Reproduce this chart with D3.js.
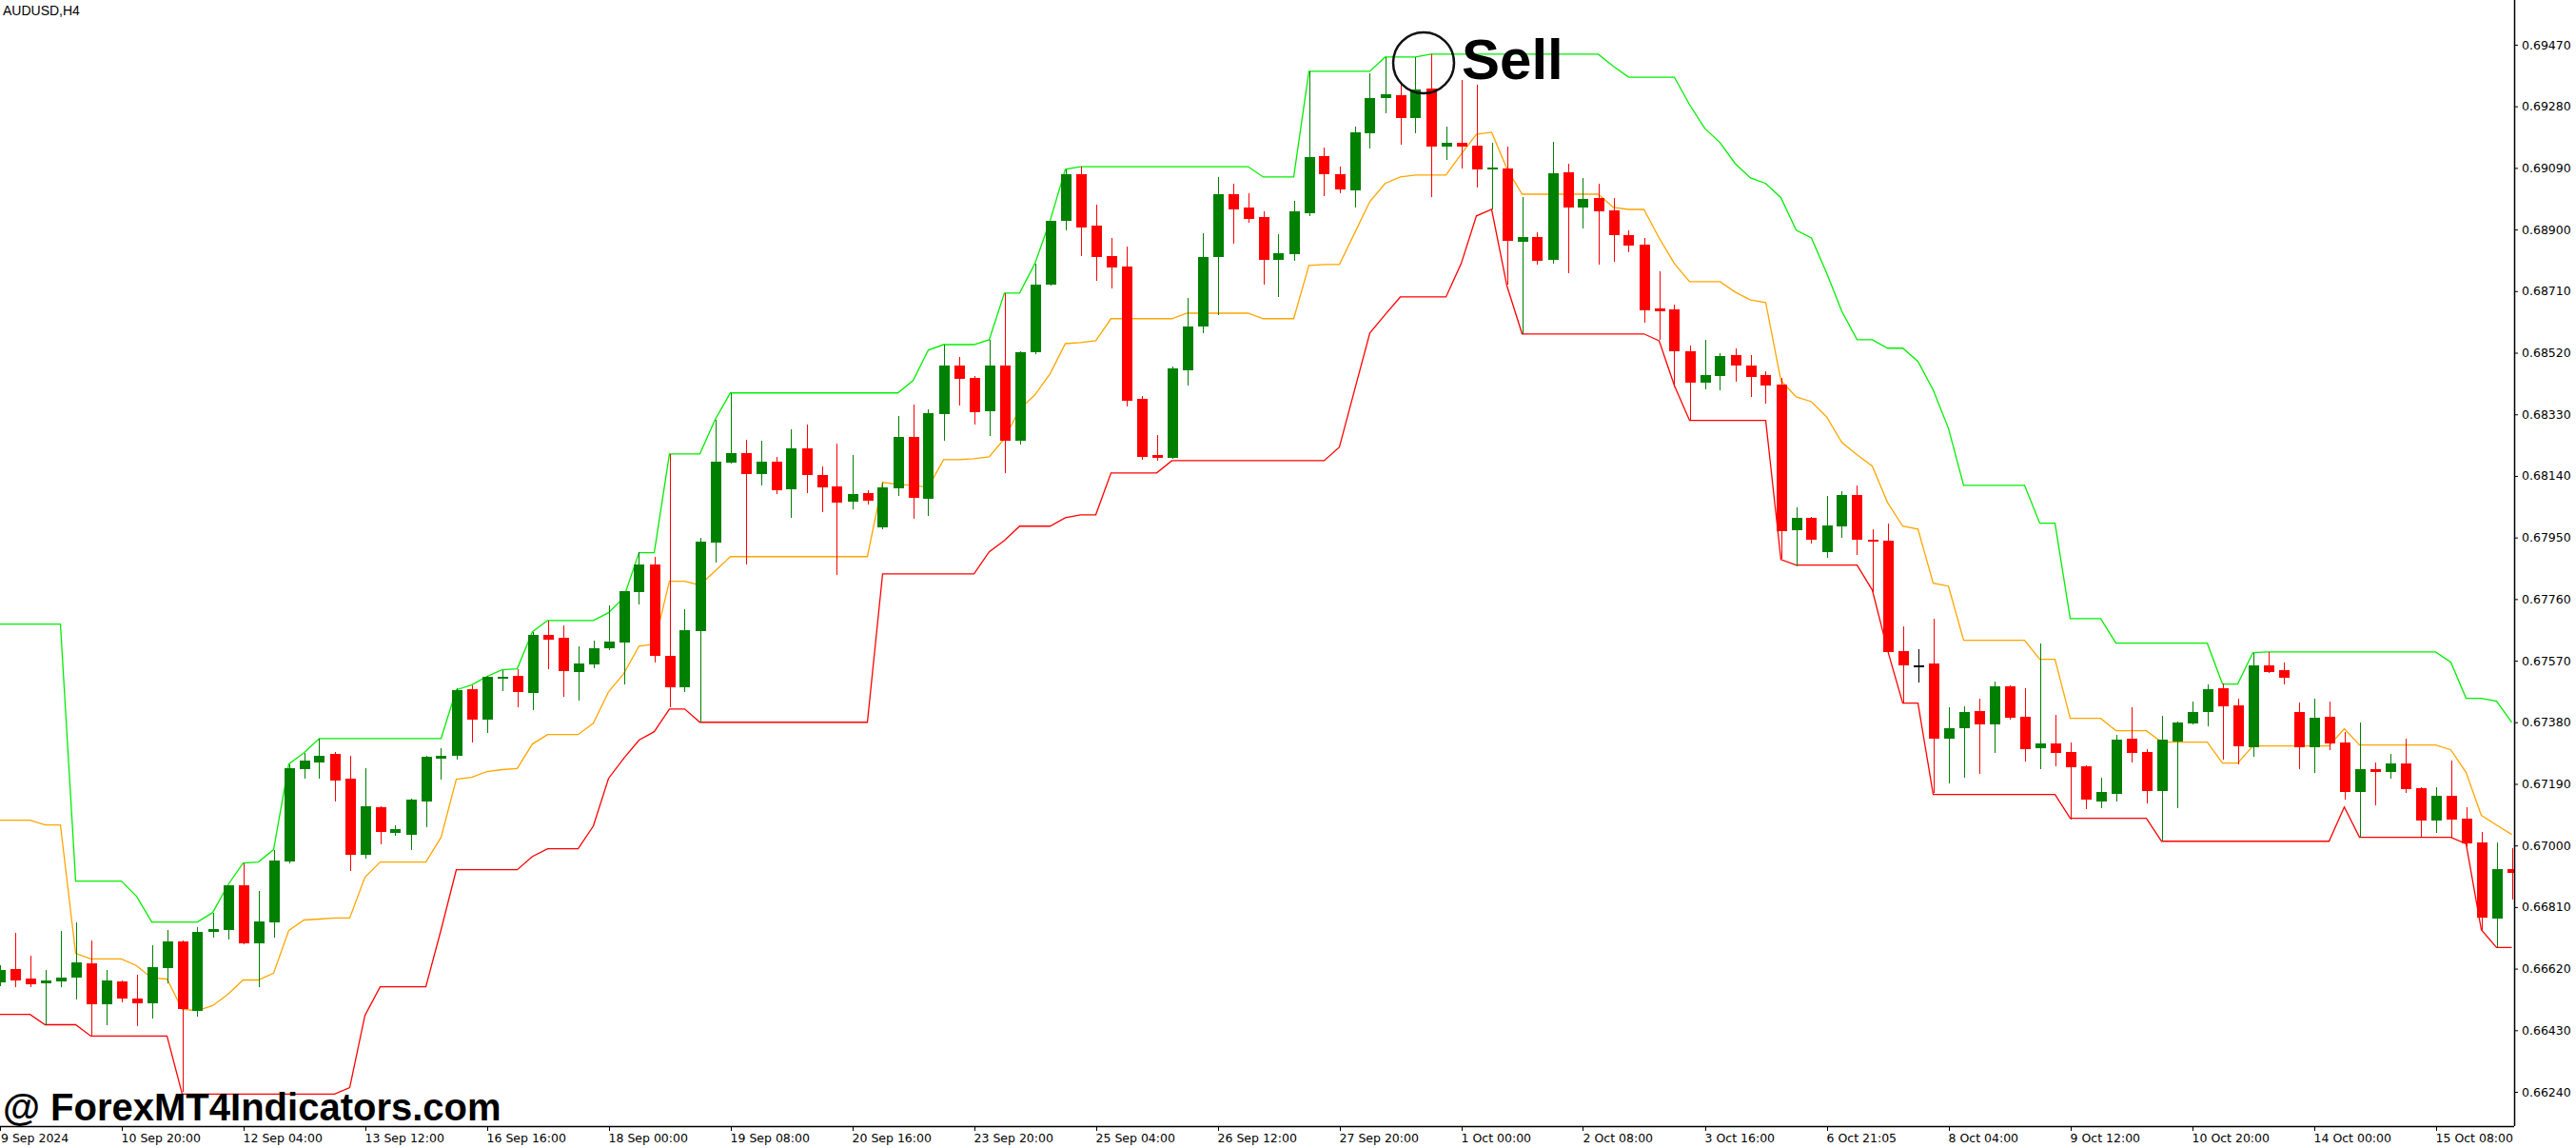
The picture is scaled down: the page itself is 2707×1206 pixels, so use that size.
<!DOCTYPE html>
<html><head><meta charset="utf-8">
<script src="https://cdn.jsdelivr.net/npm/d3@7"></script>
<style>html,body{margin:0;padding:0;background:#fff;overflow:hidden}</style>
</head><body>
<svg id="c" width="2707" height="1206"></svg>
<script>
const open=[0.66579,0.66620,0.66588,0.66576,0.66582,0.66591,0.66635,0.66509,0.66582,0.66529,
0.66512,0.66623,0.66705,0.66491,0.66732,0.66740,0.66878,0.66697,0.66764,0.66952,
0.67234,0.67257,0.67281,0.67207,0.66972,0.67119,0.67040,0.67034,0.67137,0.67269,
0.67278,0.67483,0.67389,0.67518,0.67524,0.67471,0.67650,0.67642,0.67536,0.67559,
0.67609,0.67627,0.67782,0.67868,0.67586,0.67489,0.67662,0.67935,0.68182,0.68211,
0.68146,0.68184,0.68099,0.68226,0.68143,0.68108,0.68061,0.68088,0.67982,0.68102,
0.68261,0.68070,0.68331,0.68481,0.68443,0.68340,0.68481,0.68249,0.68522,0.68730,
0.68927,0.69071,0.68912,0.68818,0.68786,0.68378,0.68205,0.68196,0.68466,0.68601,
0.68816,0.69009,0.68968,0.68939,0.68807,0.68824,0.68951,0.69127,0.69071,0.69021,
0.69197,0.69306,0.69314,0.69244,0.69335,0.69156,0.69168,0.69159,0.69086,0.69088,
0.68862,0.68877,0.68807,0.69077,0.68968,0.68998,0.68959,0.68883,0.68854,0.68657,
0.68654,0.68525,0.68428,0.68449,0.68513,0.68481,0.68452,0.68422,0.67973,0.68011,
0.67906,0.67985,0.68082,0.67944,0.67941,0.67600,0.67556,0.67562,0.67330,0.67363,
0.67416,0.67374,0.67492,0.67398,0.67301,0.67316,0.67289,0.67245,0.67137,0.67160,
0.67330,0.67289,0.67169,0.67322,0.67377,0.67413,0.67486,0.67433,0.67304,0.67556,
0.67542,0.67413,0.67304,0.67398,0.67319,0.67166,0.67234,0.67228,0.67254,0.67178,
0.67078,0.67154,0.67084,0.67008,0.66773,0.66928];
const high=[0.66632,0.66729,0.66661,0.66617,0.66735,0.66764,0.66708,0.66617,0.66585,0.66600,
0.66691,0.66738,0.66708,0.66749,0.66793,0.66878,0.66946,0.66861,0.66987,0.67251,
0.67286,0.67330,0.67289,0.67278,0.67237,0.67122,0.67063,0.67143,0.67278,0.67301,
0.67486,0.67495,0.67524,0.67542,0.67545,0.67659,0.67694,0.67680,0.67615,0.67633,
0.67741,0.67785,0.67906,0.67891,0.68208,0.67730,0.67950,0.68314,0.68396,0.68252,
0.68249,0.68199,0.68284,0.68299,0.68170,0.68240,0.68205,0.68096,0.68120,0.68325,
0.68361,0.68346,0.68545,0.68507,0.68449,0.68560,0.68704,0.68525,0.68795,0.68927,
0.69086,0.69094,0.68977,0.68874,0.68848,0.68387,0.68267,0.68478,0.68689,0.68889,
0.69062,0.69042,0.69012,0.68956,0.68886,0.68989,0.69388,0.69153,0.69094,0.69218,
0.69382,0.69432,0.69353,0.69432,0.69441,0.69218,0.69361,0.69347,0.69168,0.69156,
0.69000,0.68892,0.69171,0.69103,0.69059,0.69042,0.68998,0.68898,0.68874,0.68772,
0.68669,0.68543,0.68560,0.68519,0.68534,0.68513,0.68463,0.68443,0.68044,0.68014,
0.68079,0.68094,0.68111,0.67976,0.67994,0.67677,0.67606,0.67700,0.67427,0.67430,
0.67454,0.67507,0.67495,0.67486,0.67624,0.67404,0.67319,0.67248,0.67210,0.67342,
0.67427,0.67298,0.67401,0.67383,0.67445,0.67498,0.67501,0.67454,0.67595,0.67597,
0.67565,0.67442,0.67454,0.67445,0.67351,0.67380,0.67257,0.67281,0.67330,0.67181,
0.67181,0.67263,0.67119,0.67043,0.67010,0.66993];
const low=[0.66567,0.66564,0.66564,0.66447,0.66564,0.66526,0.66412,0.66447,0.66515,0.66444,
0.66465,0.66576,0.66239,0.66471,0.66717,0.66711,0.66694,0.66564,0.66717,0.66946,
0.67207,0.67207,0.67137,0.66922,0.66958,0.67002,0.67031,0.66987,0.67057,0.67204,
0.67266,0.67319,0.67348,0.67477,0.67427,0.67418,0.67545,0.67460,0.67448,0.67548,
0.67603,0.67498,0.67744,0.67565,0.67427,0.67474,0.67380,0.67873,0.68179,0.67868,
0.68111,0.68085,0.68011,0.68088,0.68029,0.67835,0.68038,0.68052,0.67976,0.68079,
0.68008,0.68017,0.68249,0.68358,0.68299,0.68264,0.68149,0.68237,0.68516,0.68727,
0.68898,0.68818,0.68742,0.68719,0.68355,0.68190,0.68187,0.68193,0.68419,0.68581,
0.68637,0.68857,0.68921,0.68730,0.68692,0.68804,0.68942,0.69003,0.69012,0.68968,
0.69150,0.69259,0.69162,0.69197,0.69000,0.69115,0.69088,0.69030,0.68962,0.68730,
0.68578,0.68792,0.68795,0.68766,0.68904,0.68792,0.68801,0.68830,0.68613,0.68560,
0.68413,0.68311,0.68408,0.68405,0.68431,0.68384,0.68364,0.67885,0.67862,0.67932,
0.67888,0.67950,0.67897,0.67782,0.67592,0.67442,0.67504,0.67163,0.67192,0.67210,
0.67222,0.67286,0.67389,0.67260,0.67234,0.67245,0.67081,0.67113,0.67116,0.67137,
0.67257,0.67131,0.67013,0.67116,0.67374,0.67369,0.67266,0.67251,0.67275,0.67533,
0.67498,0.67234,0.67225,0.67295,0.67140,0.67025,0.67125,0.67207,0.67163,0.67025,
0.67040,0.67025,0.66996,0.66740,0.66685,0.66834];
const close=[0.66617,0.66585,0.66573,0.66585,0.66591,0.66638,0.66509,0.66585,0.66529,0.66512,
0.66626,0.66705,0.66494,0.66732,0.66743,0.66878,0.66697,0.66767,0.66955,0.67237,
0.67263,0.67278,0.67201,0.66972,0.67122,0.67043,0.67049,0.67140,0.67275,0.67278,
0.67480,0.67389,0.67521,0.67521,0.67474,0.67650,0.67636,0.67539,0.67562,0.67609,
0.67630,0.67785,0.67868,0.67586,0.67489,0.67665,0.67938,0.68184,0.68211,0.68146,
0.68184,0.68096,0.68226,0.68143,0.68105,0.68058,0.68085,0.68064,0.68105,0.68261,
0.68073,0.68334,0.68481,0.68440,0.68337,0.68481,0.68249,0.68522,0.68730,0.68927,
0.69071,0.68907,0.68816,0.68783,0.68372,0.68199,0.68196,0.68472,0.68601,0.68816,
0.69009,0.68962,0.68933,0.68807,0.68827,0.68956,0.69124,0.69071,0.69024,0.69200,
0.69306,0.69317,0.69244,0.69332,0.69156,0.69168,0.69156,0.69086,0.69091,0.68865,
0.68877,0.68804,0.69074,0.68968,0.68995,0.68956,0.68883,0.68851,0.68651,0.68648,
0.68525,0.68428,0.68452,0.68510,0.68481,0.68446,0.68419,0.67970,0.68011,0.67944,
0.67988,0.68082,0.67944,0.67938,0.67597,0.67556,0.67556,0.67330,0.67363,0.67413,
0.67374,0.67492,0.67395,0.67298,0.67316,0.67286,0.67242,0.67140,0.67166,0.67327,
0.67286,0.67169,0.67325,0.67380,0.67413,0.67483,0.67430,0.67307,0.67556,0.67536,
0.67518,0.67304,0.67395,0.67316,0.67166,0.67234,0.67228,0.67254,0.67175,0.67078,
0.67154,0.67081,0.67005,0.66776,0.66928,0.66914];
const upper=[0.67683,0.67683,0.67683,0.67683,0.67683,0.66890,0.66890,0.66890,0.66890,0.66843,
0.66764,0.66764,0.66764,0.66764,0.66793,0.66878,0.66946,0.66949,0.66987,0.67251,
0.67286,0.67330,0.67330,0.67330,0.67330,0.67330,0.67330,0.67330,0.67330,0.67330,
0.67480,0.67495,0.67521,0.67542,0.67545,0.67659,0.67694,0.67694,0.67694,0.67694,
0.67718,0.67765,0.67903,0.67903,0.68208,0.68208,0.68208,0.68314,0.68396,0.68396,
0.68396,0.68396,0.68396,0.68396,0.68396,0.68396,0.68396,0.68396,0.68396,0.68396,
0.68434,0.68528,0.68545,0.68545,0.68545,0.68560,0.68704,0.68704,0.68795,0.68927,
0.69086,0.69094,0.69094,0.69094,0.69094,0.69094,0.69094,0.69094,0.69094,0.69094,
0.69094,0.69094,0.69094,0.69062,0.69062,0.69062,0.69388,0.69388,0.69388,0.69388,
0.69388,0.69432,0.69432,0.69432,0.69441,0.69441,0.69441,0.69441,0.69441,0.69441,
0.69441,0.69441,0.69441,0.69441,0.69441,0.69441,0.69403,0.69370,0.69370,0.69370,
0.69370,0.69285,0.69212,0.69168,0.69103,0.69059,0.69042,0.68998,0.68898,0.68874,
0.68766,0.68648,0.68560,0.68560,0.68534,0.68534,0.68493,0.68405,0.68287,0.68111,
0.68111,0.68111,0.68111,0.68111,0.67994,0.67994,0.67700,0.67700,0.67700,0.67624,
0.67624,0.67624,0.67624,0.67624,0.67624,0.67624,0.67498,0.67498,0.67595,0.67597,
0.67597,0.67597,0.67597,0.67597,0.67597,0.67597,0.67597,0.67597,0.67597,0.67597,
0.67597,0.67565,0.67454,0.67454,0.67445,0.67380];
const middle=[0.67078,0.67078,0.67078,0.67063,0.67063,0.66667,0.66650,0.66650,0.66650,0.66629,
0.66591,0.66588,0.66494,0.66491,0.66506,0.66541,0.66585,0.66585,0.66606,0.66738,
0.66770,0.66773,0.66776,0.66776,0.66902,0.66949,0.66949,0.66949,0.66949,0.67025,
0.67204,0.67210,0.67228,0.67234,0.67237,0.67313,0.67342,0.67342,0.67342,0.67377,
0.67474,0.67530,0.67615,0.67621,0.67815,0.67815,0.67803,0.67847,0.67891,0.67891,
0.67891,0.67891,0.67891,0.67891,0.67891,0.67891,0.67891,0.67891,0.68120,0.68114,
0.68111,0.68105,0.68190,0.68190,0.68193,0.68199,0.68255,0.68346,0.68390,0.68455,
0.68548,0.68551,0.68557,0.68625,0.68625,0.68625,0.68625,0.68625,0.68642,0.68642,
0.68642,0.68642,0.68642,0.68625,0.68625,0.68625,0.68789,0.68792,0.68792,0.68889,
0.68986,0.69042,0.69062,0.69068,0.69068,0.69068,0.69133,0.69194,0.69200,0.69088,
0.69009,0.69009,0.69009,0.69009,0.69009,0.69009,0.68968,0.68962,0.68962,0.68874,
0.68795,0.68739,0.68739,0.68739,0.68707,0.68683,0.68675,0.68434,0.68384,0.68369,
0.68322,0.68243,0.68205,0.68170,0.68058,0.67985,0.67976,0.67809,0.67800,0.67633,
0.67633,0.67633,0.67633,0.67633,0.67574,0.67574,0.67392,0.67392,0.67392,0.67354,
0.67354,0.67354,0.67319,0.67319,0.67319,0.67319,0.67254,0.67254,0.67307,0.67307,
0.67307,0.67307,0.67307,0.67307,0.67360,0.67310,0.67310,0.67310,0.67310,0.67310,
0.67310,0.67295,0.67225,0.67093,0.67063,0.67034];
const lower=[0.66479,0.66479,0.66479,0.66447,0.66447,0.66447,0.66412,0.66412,0.66412,0.66412,
0.66412,0.66412,0.66233,0.66233,0.66233,0.66233,0.66233,0.66233,0.66233,0.66233,
0.66233,0.66233,0.66233,0.66253,0.66476,0.66564,0.66564,0.66564,0.66564,0.66740,
0.66925,0.66925,0.66925,0.66925,0.66925,0.66966,0.66990,0.66990,0.66990,0.67060,
0.67207,0.67269,0.67325,0.67351,0.67421,0.67421,0.67380,0.67380,0.67380,0.67380,
0.67380,0.67380,0.67380,0.67380,0.67380,0.67380,0.67380,0.67380,0.67838,0.67838,
0.67838,0.67838,0.67838,0.67838,0.67838,0.67906,0.67941,0.67985,0.67985,0.67985,
0.68011,0.68020,0.68020,0.68149,0.68149,0.68149,0.68149,0.68187,0.68187,0.68187,
0.68187,0.68187,0.68187,0.68187,0.68187,0.68187,0.68187,0.68187,0.68229,0.68405,
0.68581,0.68637,0.68692,0.68692,0.68692,0.68692,0.68795,0.68942,0.68962,0.68727,
0.68578,0.68578,0.68578,0.68578,0.68578,0.68578,0.68578,0.68578,0.68578,0.68557,
0.68419,0.68311,0.68311,0.68311,0.68311,0.68311,0.68311,0.67882,0.67865,0.67865,
0.67865,0.67865,0.67865,0.67788,0.67603,0.67439,0.67439,0.67157,0.67157,0.67157,
0.67157,0.67157,0.67157,0.67157,0.67157,0.67157,0.67084,0.67084,0.67084,0.67084,
0.67084,0.67084,0.67013,0.67013,0.67013,0.67013,0.67013,0.67013,0.67013,0.67013,
0.67013,0.67013,0.67013,0.67013,0.67119,0.67025,0.67025,0.67025,0.67025,0.67025,
0.67025,0.67025,0.67005,0.66740,0.66685,0.66685];
const dateLabels=["9 Sep 2024","10 Sep 20:00","12 Sep 04:00","13 Sep 12:00","16 Sep 16:00","18 Sep 00:00","19 Sep 08:00","20 Sep 16:00","23 Sep 20:00","25 Sep 04:00","26 Sep 12:00","27 Sep 20:00","1 Oct 00:00","2 Oct 08:00","3 Oct 16:00","6 Oct 21:05","8 Oct 04:00","9 Oct 12:00","10 Oct 20:00","14 Oct 00:00","15 Oct 08:00"];
const dateLabelBars=[0,8,16,24,32,40,48,56,64,72,80,88,96,104,112,120,128,136,144,152,160];
const priceTicks=[0.69470,0.69280,0.69090,0.68900,0.68710,0.68520,0.68330,0.68140,0.67950,0.67760,0.67570,0.67380,0.67190,0.67000,0.66810,0.66620,0.66430,0.66240];

const svg=d3.select("#c");
const plotR=2642,plotB=1183;
const x=d3.scaleLinear().domain([0,165]).range([-0.5,2639.5]);
const y=d3.scaleLinear().domain([0.69470,0.66240]).range([47,1147]);
const idx=d3.range(open.length);

svg.append("defs").append("clipPath").attr("id","pc").append("rect").attr("x",0).attr("y",0).attr("width",plotR).attr("height",plotB);
const g=svg.append("g").attr("clip-path","url(#pc)");

function lineOf(arr,color){
  g.append("path").datum(idx).attr("fill","none").attr("stroke",color).attr("stroke-width",1.3)
   .attr("d",d3.line().x(i=>x(i)).y(i=>y(arr[i])));
}
lineOf(upper,"#00ee00");
lineOf(middle,"#ffa500");
lineOf(lower,"#ff0000");

function col(i){return close[i]>open[i]?"#008000":(close[i]<open[i]?"#ff0000":"#000000");}
const cg=g.append("g").attr("shape-rendering","crispEdges");
cg.selectAll("line.w").data(idx).join("line").attr("class","w")
  .attr("x1",i=>Math.round(x(i))+0.5).attr("x2",i=>Math.round(x(i))+0.5)
  .attr("y1",i=>y(high[i])).attr("y2",i=>y(low[i])).attr("stroke",col).attr("stroke-width",1.6);
cg.selectAll("rect.b").data(idx).join("rect").attr("class","b")
  .attr("x",i=>Math.round(x(i))-5).attr("width",11)
  .attr("y",i=>y(Math.max(open[i],close[i])))
  .attr("height",i=>Math.max(2,Math.abs(y(open[i])-y(close[i]))))
  .attr("fill",col);

const ya=d3.axisRight(y).tickValues(priceTicks).tickFormat(d3.format(".5f")).tickSize(4).tickPadding(4);
const yg=svg.append("g").attr("transform",`translate(${plotR},0)`).call(ya);
yg.select(".domain").remove();
yg.selectAll("text").attr("font-family","DejaVu Sans").attr("font-size","12.5px").attr("fill","#000");
svg.append("line").attr("x1",plotR+0.5).attr("x2",plotR+0.5).attr("y1",0).attr("y2",plotB).attr("stroke","#000").attr("stroke-width",1.5);
svg.append("line").attr("x1",0).attr("x2",plotR).attr("y1",plotB+0.5).attr("y2",plotB+0.5).attr("stroke","#000").attr("stroke-width",1.5);

const xa=svg.append("g");
xa.selectAll("line").data(dateLabelBars).join("line")
  .attr("x1",b=>Math.round(x(b))+0.5).attr("x2",b=>Math.round(x(b))+0.5).attr("y1",plotB).attr("y2",plotB+5).attr("stroke","#000");
xa.selectAll("text").data(dateLabelBars).join("text")
  .attr("x",b=>Math.max(1,x(b))).attr("y",1200).attr("font-family","DejaVu Sans").attr("font-size","12.5px").attr("fill","#000")
  .text((b,k)=>dateLabels[k]);

svg.append("text").attr("x",3).attr("y",16).attr("font-family","Liberation Sans").attr("font-size","14px").attr("fill","#000").text("AUDUSD,H4");

svg.append("circle").attr("cx",1496).attr("cy",66).attr("r",32).attr("fill","none").attr("stroke","#111").attr("stroke-width",2.5);
svg.append("text").attr("x",1536).attr("y",83).attr("font-family","Liberation Sans").attr("font-weight","bold").attr("font-size","60px").attr("fill","#000").text("Sell");
svg.append("text").attr("x",3).attr("y",1177).attr("font-family","Liberation Sans").attr("font-weight","bold").attr("font-size","40px").attr("fill","#000").text("@ ForexMT4Indicators.com");
</script>
</body></html>
